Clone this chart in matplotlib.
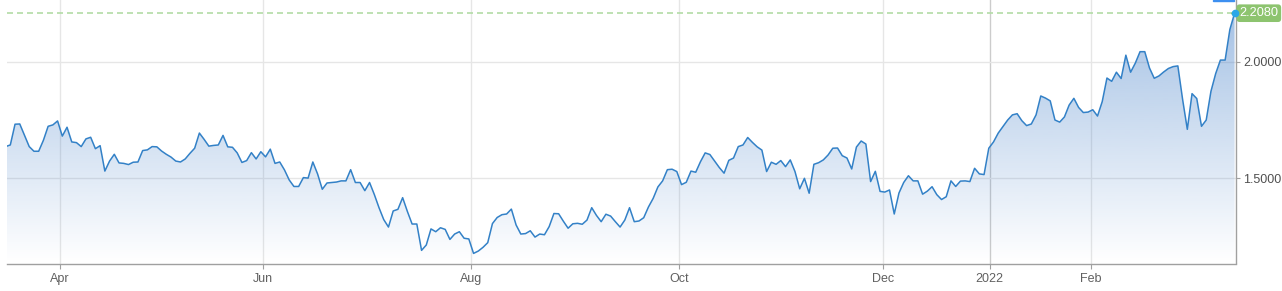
import numpy as np
import pandas as pd
import matplotlib
matplotlib.use("Agg")
import matplotlib.pyplot as plt
import matplotlib.transforms as mtransforms
from matplotlib.patches import Polygon, Rectangle

plt.rcParams["font.family"] = ["Liberation Sans", "DejaVu Sans"]

# one value per weekday, 16 Mar 2021 .. 15 Mar 2022
dates = pd.bdate_range("2021-03-16", "2022-03-15")
yields = [
    1.636, 1.643, 1.732, 1.733, 1.684, 1.636, 1.616, 1.616, 1.663, 1.723,
    1.729, 1.746, 1.681, 1.719, 1.656, 1.653, 1.636, 1.669, 1.676, 1.627,
    1.640, 1.531, 1.574, 1.603, 1.566, 1.564, 1.559, 1.569, 1.570, 1.619,
    1.622, 1.636, 1.635, 1.617, 1.603, 1.591, 1.574, 1.570, 1.583, 1.607,
    1.629, 1.694, 1.667, 1.638, 1.641, 1.643, 1.684, 1.635, 1.633, 1.609,
    1.568, 1.576, 1.610, 1.583, 1.614, 1.592, 1.625, 1.564, 1.570, 1.536,
    1.493, 1.465, 1.465, 1.503, 1.501, 1.570, 1.519, 1.453, 1.480, 1.482,
    1.484, 1.489, 1.489, 1.537, 1.482, 1.482, 1.447, 1.482, 1.431, 1.374,
    1.323, 1.291, 1.360, 1.367, 1.417, 1.358, 1.304, 1.304, 1.191, 1.214,
    1.283, 1.271, 1.288, 1.281, 1.238, 1.261, 1.271, 1.243, 1.240, 1.178,
    1.188, 1.204, 1.224, 1.306, 1.332, 1.344, 1.347, 1.368, 1.300, 1.261,
    1.263, 1.275, 1.248, 1.261, 1.258, 1.293, 1.349, 1.348, 1.316, 1.286,
    1.305, 1.307, 1.303, 1.321, 1.374, 1.341, 1.314, 1.346, 1.338, 1.314,
    1.291, 1.321, 1.374, 1.314, 1.317, 1.331, 1.377, 1.414, 1.463, 1.489,
    1.537, 1.539, 1.529, 1.473, 1.483, 1.531, 1.526, 1.571, 1.609, 1.602,
    1.574, 1.546, 1.522, 1.577, 1.587, 1.636, 1.643, 1.675, 1.654, 1.635,
    1.621, 1.529, 1.569, 1.560, 1.576, 1.550, 1.579, 1.529, 1.455, 1.500,
    1.436, 1.560, 1.567, 1.579, 1.600, 1.629, 1.630, 1.597, 1.587, 1.540,
    1.634, 1.660, 1.647, 1.486, 1.530, 1.444, 1.441, 1.450, 1.347, 1.437,
    1.482, 1.511, 1.489, 1.489, 1.432, 1.445, 1.464, 1.430, 1.409, 1.421,
    1.489, 1.465, 1.488, 1.489, 1.486, 1.543, 1.519, 1.516, 1.629, 1.656,
    1.694, 1.722, 1.750, 1.772, 1.777, 1.747, 1.726, 1.733, 1.772, 1.853,
    1.844, 1.832, 1.750, 1.741, 1.763, 1.814, 1.843, 1.804, 1.782, 1.784,
    1.794, 1.767, 1.829, 1.930, 1.916, 1.955, 1.928, 2.028, 1.955, 1.994,
    2.043, 2.043, 1.973, 1.929, 1.939, 1.956, 1.971, 1.979, 1.982, 1.839,
    1.710, 1.863, 1.842, 1.723, 1.750, 1.873, 1.949, 2.007, 2.007, 2.138,
    2.208,
]
month_starts = ["2021-04-01", "2021-06-01", "2021-08-01", "2021-10-01",
                "2021-12-01", "2022-01-01", "2022-02-01"]
month_labels = ["Apr", "Jun", "Aug", "Oct", "Dec", "2022", "Feb"]
y_ticks = [1.5, 2.0]

line_color = "#3381c7"
label_green = "#8dc46f"

x = np.arange(len(yields))
# highcharts-like ordinal axis: month ticks fall between trading days
tick_pos = np.interp(pd.to_datetime(month_starts).values.astype("int64"),
                     (dates + pd.Timedelta(hours=11)).values.astype("int64"), x)

fig = plt.figure(figsize=(12.82, 2.91), dpi=100)
ax = fig.add_axes([7 / 1282, 27.5 / 291, 1229 / 1282, 263.5 / 291])
xlo, xhi = 0.3, 260.3
ylo, yhi = 1.1347, 2.2646

# gradient area under the line
grad = np.zeros((256, 1, 4))
grad[..., 0] = 66 / 255
grad[..., 1] = 126 / 255
grad[..., 2] = 200 / 255
grad[:, 0, 3] = np.linspace(0.5, 0.0, 256)
im = ax.imshow(grad, aspect="auto", extent=[xlo, xhi, ylo, yhi], origin="upper",
               interpolation="bilinear", zorder=1)
verts = [(x[0], ylo)] + list(zip(x, yields)) + [(x[-1], ylo)]
area = Polygon(verts, facecolor="none", edgecolor="none")
ax.add_patch(area)
im.set_clip_path(area)

ax.plot(x, yields, color=line_color, lw=1.1, zorder=3)

last = yields[-1]
ax.axhline(last, color="#b3dca6", lw=1.2, dashes=(3.6, 2.4), zorder=2)
ax.plot(x[-1], last, "o", color="#2aa7e8", ms=4.5, zorder=7, clip_on=False)

blend = mtransforms.blended_transform_factory(ax.transAxes, ax.transData)
ax.plot([1.0], [last], marker="<", ms=7.5, color=label_green, transform=blend,
        clip_on=False, zorder=5)
ax.annotate(f"{last:.4f}", xy=(1.0, last), xycoords=("axes fraction", "data"),
            xytext=(2.4, 0), textcoords="offset points", ha="left", va="center",
            color="white", fontsize=9.2, zorder=6, annotation_clip=False,
            bbox=dict(boxstyle="round,pad=0.22,rounding_size=0.25", fc=label_green, ec="none"))

ax.set_xlim(xlo, xhi)
ax.set_ylim(ylo, yhi)

ax.set_xticks(tick_pos)
ax.set_xticklabels(month_labels)
ax.set_yticks(y_ticks)
ax.set_yticklabels([f"{v:.4f}" for v in y_ticks])
ax.yaxis.tick_right()

ax.grid(True, color="#e6e6e6", lw=1)
ax.set_axisbelow(True)
ax.get_xgridlines()[month_labels.index("2022")].set_color("#cccccc")

for side in ["top", "left"]:
    ax.spines[side].set_visible(False)
for side in ["bottom", "right"]:
    ax.spines[side].set_color("#a0a0a0")
    ax.spines[side].set_linewidth(1)

ax.tick_params(axis="x", length=3.6, color="#a0a0a0", labelsize=9,
               labelcolor="#606060", pad=3)
ax.tick_params(axis="y", length=3, color="#a0a0a0", labelsize=9,
               labelcolor="#505050", pad=2)

# sliver of a blue element cut off at the top edge
fig.patches.append(Rectangle((1213 / 1282, 290 / 291), 21 / 1282, 1 / 291,
                             transform=fig.transFigure, color="#3d8ff0"))

fig.savefig("out.png", dpi=100)
